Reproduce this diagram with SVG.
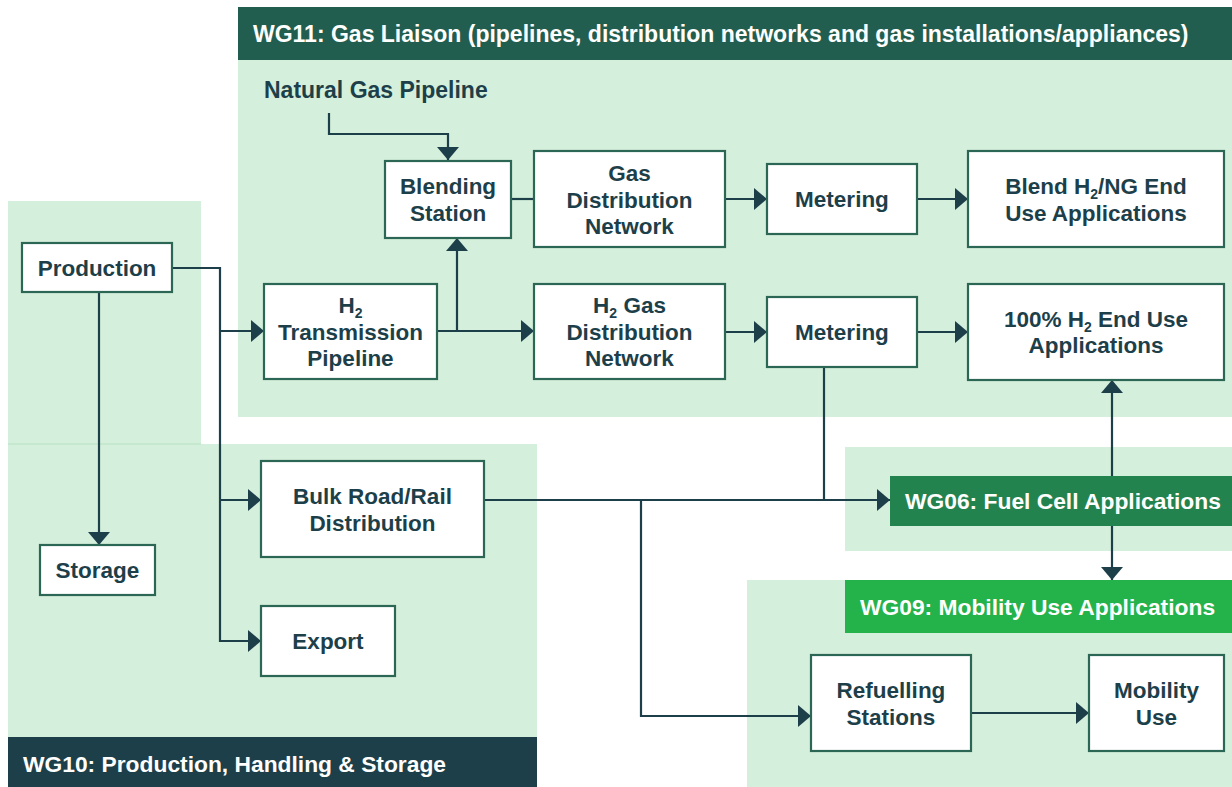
<svg xmlns="http://www.w3.org/2000/svg" width="1232" height="787" viewBox="0 0 1232 787">
<defs>
<style>
.region{fill:#D4EFDB;}
.node rect{fill:#FFFFFF;stroke:#2C6654;stroke-width:2.2;}
.node text{font-family:"Liberation Sans",Arial,sans-serif;font-weight:bold;font-size:22.5px;fill:#1D3F4A;text-anchor:middle;}
.hdr{font-family:"Liberation Sans",Arial,sans-serif;font-weight:bold;font-size:22.8px;fill:#FFFFFF;}
.lbl{font-family:"Liberation Sans",Arial,sans-serif;font-weight:bold;font-size:23px;fill:#1D3F4A;}
.sub{font-size:14px;}
#connectors path{fill:none;stroke:#1D3F4A;stroke-width:2.2;}
.arr{marker-end:url(#ah);}
</style>
<marker id="ah" markerUnits="userSpaceOnUse" markerWidth="13" markerHeight="22" refX="13" refY="11" orient="auto">
<path d="M0,0 L13,11 L0,22 Z" fill="#1D3F4A"/>
</marker>
</defs>

<!-- regions -->
<g id="regions">
<rect class="region" x="238" y="60" width="994" height="357"/>
<rect class="region" x="8" y="201" width="193" height="243"/>
<rect class="region" x="8" y="444" width="529" height="293"/>
<line x1="8" y1="444" x2="201" y2="444" stroke="#B5E2C3" stroke-width="1"/>
<rect class="region" x="845" y="447" width="387" height="104"/>
<rect class="region" x="747" y="580" width="485" height="207"/>
</g>

<!-- headers -->
<g id="wg11">
<rect x="238" y="7" width="994" height="53" fill="#225E4F"/>
<text class="hdr" x="253" y="42" style="font-size:23px">WG11: Gas Liaison (pipelines, distribution networks and gas installations/appliances)</text>
</g>
<g id="wg10">
<rect x="8" y="737" width="529" height="50" fill="#1D3F4A"/>
<text class="hdr" x="23" y="772">WG10: Production, Handling &amp; Storage</text>
</g>
<g id="wg09">
<rect x="845" y="580" width="387" height="53" fill="#24B24B"/>
<text class="hdr" x="860" y="615">WG09: Mobility Use Applications</text>
</g>

<!-- connectors -->
<g id="connectors">
<path class="arr" d="M329,113 V134 H448 V160"/>
<path class="arr" d="M99,292 V545"/>
<path class="arr" d="M172,268 H220 V641 H261"/>
<path class="arr" d="M220,331 H264"/>
<path class="arr" d="M220,500 H261"/>
<path class="arr" d="M437,331 H534"/>
<path class="arr" d="M457,331 V238"/>
<path d="M511,199 H534"/>
<path class="arr" d="M725,199 H767"/>
<path class="arr" d="M917,199 H968"/>
<path class="arr" d="M725,332 H767"/>
<path class="arr" d="M917,332 H968"/>
<path d="M824,367 V500"/>
<path class="arr" d="M484,500 H890"/>
<path class="arr" d="M641,500 V716 H811"/>
<path class="arr" d="M971,713 H1089"/>
<path class="arr" d="M1112,476 V380"/>
<path class="arr" d="M1112,526 V580"/>
</g>

<g id="wg06">
<rect x="890" y="476" width="342" height="50" fill="#23834F"/>
<text class="hdr" x="905" y="509">WG06: Fuel Cell Applications</text>
</g>

<g id="natural-gas-pipeline">
<text class="lbl" x="264" y="98">Natural Gas Pipeline</text>
</g>

<!-- nodes -->
<g id="production" class="node">
<rect x="22" y="243" width="150" height="49"/>
<text x="97" y="276">Production</text>
</g>
<g id="storage" class="node">
<rect x="40" y="545" width="115" height="50"/>
<text x="97.5" y="578">Storage</text>
</g>
<g id="h2-transmission" class="node">
<rect x="264" y="284" width="173" height="95"/>
<text x="350.5" y="313">H<tspan class="sub" dy="5">2</tspan></text>
<text x="350.5" y="340">Transmission</text>
<text x="350.5" y="366">Pipeline</text>
</g>
<g id="blending-station" class="node">
<rect x="385" y="161" width="126" height="77"/>
<text x="448" y="194">Blending</text>
<text x="448" y="221">Station</text>
</g>
<g id="gas-distribution" class="node">
<rect x="534" y="151" width="191" height="96"/>
<text x="629.5" y="181">Gas</text>
<text x="629.5" y="207.5">Distribution</text>
<text x="629.5" y="234">Network</text>
</g>
<g id="h2-gas-distribution" class="node">
<rect x="534" y="284" width="191" height="95"/>
<text x="629.5" y="313">H<tspan class="sub" dy="5">2</tspan><tspan dy="-5"> Gas</tspan></text>
<text x="629.5" y="340">Distribution</text>
<text x="629.5" y="366">Network</text>
</g>
<g id="metering-1" class="node">
<rect x="767" y="164" width="150" height="70"/>
<text x="842" y="207">Metering</text>
</g>
<g id="metering-2" class="node">
<rect x="767" y="297" width="150" height="70"/>
<text x="842" y="340">Metering</text>
</g>
<g id="blend-end-use" class="node">
<rect x="968" y="151" width="256" height="96"/>
<text x="1096" y="194">Blend H<tspan class="sub" dy="5">2</tspan><tspan dy="-5">/NG End</tspan></text>
<text x="1096" y="221">Use Applications</text>
</g>
<g id="h2-end-use" class="node">
<rect x="968" y="284" width="256" height="96"/>
<text x="1096" y="327">100% H<tspan class="sub" dy="5">2</tspan><tspan dy="-5"> End Use</tspan></text>
<text x="1096" y="353">Applications</text>
</g>
<g id="bulk-distribution" class="node">
<rect x="261" y="461" width="223" height="96"/>
<text x="372.5" y="504">Bulk Road/Rail</text>
<text x="372.5" y="530.5">Distribution</text>
</g>
<g id="export" class="node">
<rect x="261" y="606" width="134" height="70"/>
<text x="328" y="649">Export</text>
</g>
<g id="refuelling-stations" class="node">
<rect x="811" y="655" width="160" height="96"/>
<text x="891" y="698">Refuelling</text>
<text x="891" y="724.5">Stations</text>
</g>
<g id="mobility-use" class="node">
<rect x="1089" y="655" width="135" height="96"/>
<text x="1156.5" y="698">Mobility</text>
<text x="1156.5" y="724.5">Use</text>
</g>
</svg>
